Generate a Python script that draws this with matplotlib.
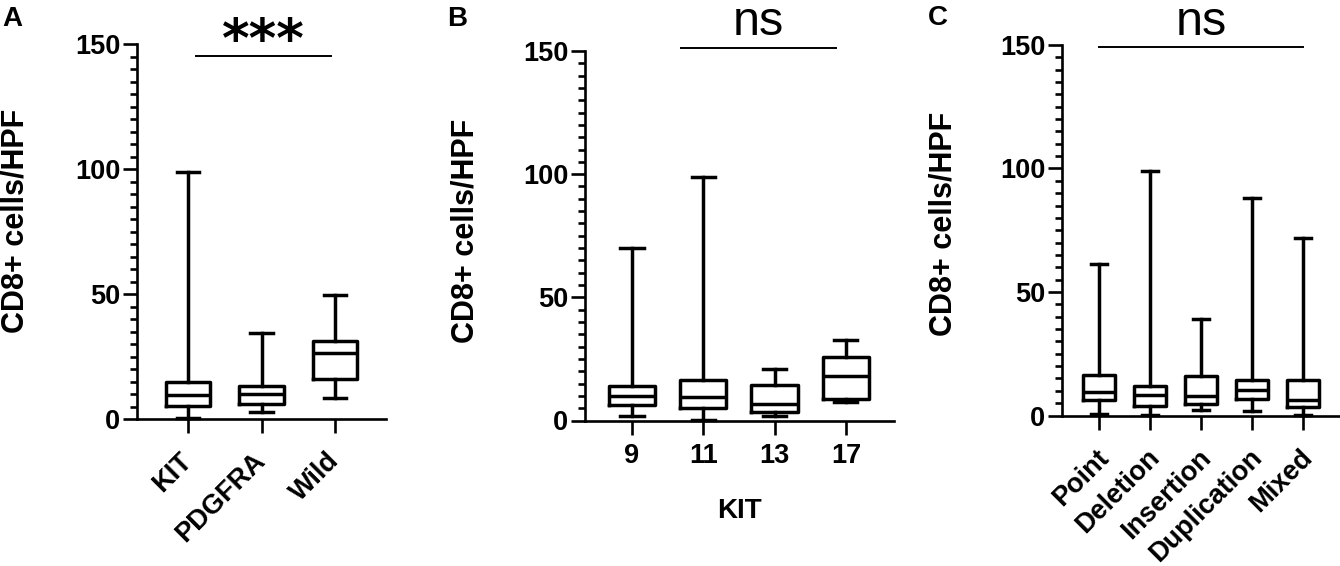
import numpy as np
import matplotlib.pyplot as plt
import matplotlib.transforms as mtransforms
from matplotlib.ticker import MultipleLocator

plt.rcParams['font.family'] = ['Liberation Sans', 'DejaVu Sans']
plt.rcParams['font.weight'] = 'bold'

# A: mutation type
a_labels = ['KIT', 'PDGFRA', 'Wild']
a_lo = [0.3, 2.7, 8.4]
a_q1 = [5.2, 6.2, 16.1]
a_med = [9.5, 9.9, 26.6]
a_q3 = [15.0, 13.2, 31.4]
a_hi = [99, 34.3, 49.8]

# B: KIT exon
b_labels = ['9', '11', '13', '17']
b_lo = [1.7, 0.4, 1.7, 7.5]
b_q1 = [6.3, 5.2, 3.5, 8.8]
b_med = [10.0, 9.7, 6.6, 18.1]
b_q3 = [14.0, 16.6, 14.4, 25.9]
b_hi = [70, 99, 21, 32.8]

# C: mutation form
c_labels = ['Point', 'Deletion', 'Insertion', 'Duplication', 'Mixed']
c_lo = [0.6, 0.4, 2.1, 1.7, 0.4]
c_q1 = [6.3, 3.7, 4.8, 6.5, 3.3]
c_med = [9.7, 8.2, 8.0, 10.2, 6.2]
c_q3 = [16.5, 12.1, 15.8, 14.5, 14.2]
c_hi = [61.4, 99, 39, 88, 72]

W, H = 1340, 566
fig = plt.figure(figsize=(W / 100, H / 100), dpi=100)


def panel(rect, labels, lo, q1, med, q3, hi, width, xlim, rot, ylab_xy, dx=0.0):
    ax = fig.add_axes(rect)
    stats = [dict(label=l, whislo=a, q1=b, med=c, q3=d, whishi=e, fliers=[])
             for l, a, b, c, d, e in zip(labels, lo, q1, med, q3, hi)]
    lw = 2.5
    ax.bxp(stats, positions=range(len(labels)), widths=width,
           capwidths=width * 0.5, showfliers=False,
           boxprops=dict(color='k', lw=lw),
           whiskerprops=dict(color='k', lw=lw),
           capprops=dict(color='k', lw=lw),
           medianprops=dict(color='k', lw=lw))
    for art in ax.lines:
        art.set_clip_on(False)
    ax.set_xlim(*xlim)
    ax.set_ylim(0, 150)
    ax.set_yticks([0, 50, 100, 150])
    ax.yaxis.set_minor_locator(MultipleLocator(5))
    for s in ['top', 'right']:
        ax.spines[s].set_visible(False)
    for s in ['left', 'bottom']:
        ax.spines[s].set_linewidth(1.9)
    ax.tick_params(axis='y', which='major', length=10, width=1.9, labelsize=19.5, pad=2)
    ax.tick_params(axis='y', which='minor', length=5, width=1.9)
    ax.tick_params(axis='x', length=10, width=1.9, labelsize=19.5, pad=6)
    if rot:
        ax.set_xticklabels(labels, rotation=45, ha='right', va='center', rotation_mode='anchor')
        off = mtransforms.ScaledTranslation(dx, -0.16, fig.dpi_scale_trans)
        for t in ax.get_xticklabels():
            t.set_transform(t.get_transform() + off)
    ax.set_ylabel('CD8+ cells/HPF', fontsize=22, fontweight='bold')
    ax.yaxis.set_label_coords(*ylab_xy)
    return ax


axA = panel([137 / W, 1 - 419 / H, 249 / W, 375 / H], a_labels, a_lo, a_q1, a_med, a_q3, a_hi,
            0.6, (-0.694, 2.694), True, (-0.426, 0.528))
axB = panel([585 / W, 1 - 420.5 / H, 309 / W, 369.5 / H], b_labels, b_lo, b_q1, b_med, b_q3, b_hi,
            0.65, (-0.66, 3.675), False, (-0.337, 0.513))
axC = panel([1062 / W, 1 - 415.5 / H, 278 / W, 370.5 / H], c_labels, c_lo, c_q1, c_med, c_q3, c_hi,
            0.63, (-0.725, 4.725), True, (-0.374, 0.517), dx=0.06)

axB.set_xlabel('KIT', fontsize=20, fontweight='bold')
axB.xaxis.set_label_coords(0.5, -0.21)

# significance bars
axA.plot([0.11, 1.95], [145.2, 145.2], color='k', lw=1.4, clip_on=False)
axB.plot([0.68, 2.86], [151.2, 151.2], color='k', lw=1.4, clip_on=False)
axC.plot([0, 4], [149, 149], color='k', lw=1.4, clip_on=False)

trA = mtransforms.blended_transform_factory(axA.transData, fig.transFigure)
trB = mtransforms.blended_transform_factory(axB.transData, fig.transFigure)
trC = mtransforms.blended_transform_factory(axC.transData, fig.transFigure)
axA.text(1.03, 1 - 57 / H, '***', transform=trA, ha='center', va='baseline',
         fontsize=38, fontweight='bold', family='DejaVu Sans')
axB.text(1.77, 1 - 35 / H, 'ns', transform=trB, ha='center', va='baseline',
         fontsize=35, fontweight='normal')
axC.text(2.0, 1 - 35 / H, 'ns', transform=trC, ha='center', va='baseline',
         fontsize=35, fontweight='normal')

# panel letters
for x, y, s in [(2, 6, 'A'), (447, 6, 'B'), (928, 5, 'C')]:
    fig.text(x / W, 1 - y / H, s, ha='left', va='top', fontsize=20, fontweight='bold')

fig.savefig('out.png', dpi=100)
